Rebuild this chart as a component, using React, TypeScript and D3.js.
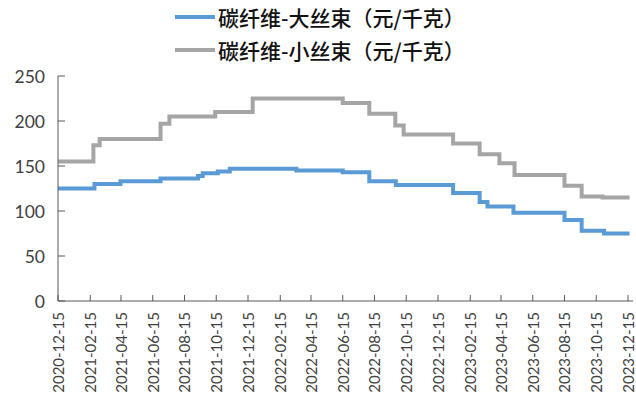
import React from 'react';
import * as d3 from 'd3';

const seriesNames = ['碳纤维-大丝束（元/千克）', '碳纤维-小丝束（元/千克）'];
const seriesColors = ['#5B9BD5', '#A5A5A5'];

// change points (step after) — large tow
const largeTowDates = [
  '2020-12-15', '2021-02-23', '2021-04-14', '2021-06-30', '2021-09-10', '2021-09-19',
  '2021-10-18', '2021-11-10', '2022-03-18', '2022-06-15', '2022-08-05', '2022-09-25',
  '2023-01-13', '2023-03-05', '2023-03-20', '2023-05-09', '2023-08-15', '2023-09-17',
  '2023-10-30', '2023-12-18',
];
const largeTowValues = [
  125, 130, 133, 136, 139, 142,
  144, 147, 145, 143, 133, 129,
  120, 110, 105, 98, 90, 78,
  75, 75,
];

// change points (step after) — small tow
const smallTowDates = [
  '2020-12-15', '2021-02-21', '2021-03-05', '2021-06-30', '2021-07-17', '2021-10-13',
  '2021-12-24', '2022-06-15', '2022-08-05', '2022-09-24', '2022-10-10', '2023-01-13',
  '2023-03-05', '2023-04-12', '2023-05-11', '2023-08-15', '2023-09-17', '2023-10-27',
  '2023-12-18',
];
const smallTowValues = [
  155, 173, 180, 197, 205, 210,
  225, 220, 208, 195, 185, 175,
  163, 153, 140, 128, 116, 115,
  115,
];

const xTickLabels = [
  '2020-12-15', '2021-02-15', '2021-04-15', '2021-06-15', '2021-08-15', '2021-10-15',
  '2021-12-15', '2022-02-15', '2022-04-15', '2022-06-15', '2022-08-15', '2022-10-15',
  '2022-12-15', '2023-02-15', '2023-04-15', '2023-06-15', '2023-08-15', '2023-10-15',
  '2023-12-15',
];
const yTicks = [0, 50, 100, 150, 200, 250];

const W = 636;
const H = 400;
const left = 58;
const right = 628;
const top = 76;
const bottom = 301;

const parse = d3.timeParse('%Y-%m-%d');

export default function App() {
  const x = d3
    .scaleTime()
    .domain([parse(xTickLabels[0])!, parse(xTickLabels[xTickLabels.length - 1])!])
    .range([left, right]);
  const y = d3.scaleLinear().domain([0, 250]).range([bottom, top]);

  const line = d3
    .line<[Date, number]>()
    .x((d) => x(d[0]))
    .y((d) => y(d[1]))
    .curve(d3.curveStepAfter);

  const large: [Date, number][] = largeTowDates.map((d, i) => [parse(d)!, largeTowValues[i]]);
  const small: [Date, number][] = smallTowDates.map((d, i) => [parse(d)!, smallTowValues[i]]);

  const axisColor = '#595959';
  const labelColor = '#404040';
  const font = 'Lato, "Open Sans", sans-serif';

  return (
    <svg
      width={W}
      height={H}
      style={{ position: 'absolute', left: 0, top: 0, background: '#fff' }}
    >
      {/* legend */}
      {seriesNames.map((name, i) => {
        const cy = 17 + i * 33;
        return (
          <g key={name}>
            <line x1={175} x2={215} y1={cy} y2={cy} stroke={seriesColors[i]} strokeWidth={4} />
            <text
              x={218}
              y={cy}
              dominantBaseline="central"
              fontFamily='"Noto Sans CJK SC", sans-serif'
              fontSize={21}
              fontWeight={500}
              fill="#111"
            >
              {name}
            </text>
          </g>
        );
      })}

      {/* series */}
      <path d={line(small) || ''} fill="none" stroke={seriesColors[1]} strokeWidth={4} />
      <path d={line(large) || ''} fill="none" stroke={seriesColors[0]} strokeWidth={4} />

      {/* y axis */}
      <line x1={left} x2={left} y1={top} y2={bottom} stroke={axisColor} strokeWidth={1} />
      {yTicks.map((t) => (
        <g key={t}>
          <line x1={left} x2={left + 7} y1={y(t)} y2={y(t)} stroke={axisColor} />
          <text
            x={45}
            y={y(t)}
            textAnchor="end"
            dominantBaseline="central"
            fontFamily={font}
            fontSize={17.5}
            fill={labelColor}
          >
            {t}
          </text>
        </g>
      ))}

      {/* x axis */}
      <line x1={left} x2={633} y1={bottom} y2={bottom} stroke={axisColor} strokeWidth={1} />
      {xTickLabels.map((lab) => {
        const px = x(parse(lab)!);
        return (
          <g key={lab}>
            <line x1={px} x2={px} y1={bottom} y2={bottom - 6} stroke={axisColor} />
            <text
              transform={`translate(${px},${312}) rotate(-90)`}
              textAnchor="end"
              dominantBaseline="central"
              fontFamily={font}
              fontSize={15}
              fill={labelColor}
            >
              {lab}
            </text>
          </g>
        );
      })}
    </svg>
  );
}
